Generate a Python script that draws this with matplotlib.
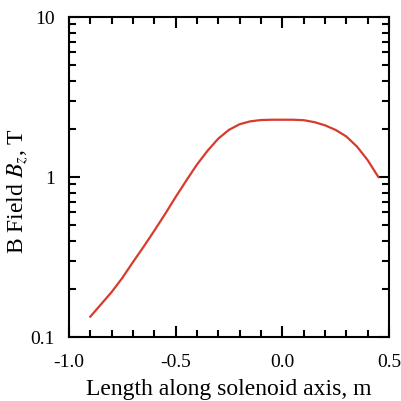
import matplotlib
matplotlib.use("Agg")
import matplotlib.pyplot as plt
from matplotlib.ticker import MultipleLocator, LogLocator, FixedFormatter, FixedLocator, NullFormatter

# position along solenoid axis (m) and field magnitude (T)
z_pos = [-0.90, -0.85, -0.80, -0.75, -0.70, -0.65, -0.60, -0.55, -0.50, -0.45,
         -0.40, -0.35, -0.30, -0.25, -0.20, -0.15, -0.10, -0.05, 0.00, 0.05,
         0.10, 0.15, 0.20, 0.25, 0.30, 0.35, 0.40, 0.45]
b_field = [0.134, 0.160, 0.191, 0.234, 0.294, 0.367, 0.462, 0.586, 0.750, 0.951,
           1.197, 1.462, 1.738, 1.972, 2.138, 2.228, 2.270, 2.280, 2.280, 2.280,
           2.265, 2.203, 2.104, 1.968, 1.791, 1.549, 1.274, 1.000]

y_ticks = [0.1, 1, 10]
y_tick_labels = ['0.1', '1', '10']

plt.rcParams['font.family'] = 'Liberation Serif'
plt.rcParams['mathtext.fontset'] = 'stix'
plt.rcParams['axes.unicode_minus'] = False

fig = plt.figure(figsize=(4.02, 4.01), dpi=100)
ax = fig.add_axes([0.1716, 0.1596, 0.7961, 0.798])

ax.plot(z_pos, b_field, color='#d93a2e', lw=1.6)

ax.set_yscale('log')
ax.set_xlim(-1.0, 0.5)
ax.set_ylim(0.1, 10)

ax.xaxis.set_major_locator(MultipleLocator(0.5))
ax.xaxis.set_minor_locator(MultipleLocator(0.1))
ax.xaxis.set_major_formatter(plt.FuncFormatter(lambda v, p: f'{v:.1f}'))
ax.yaxis.set_major_locator(FixedLocator(y_ticks))
ax.yaxis.set_major_formatter(FixedFormatter(y_tick_labels))
ax.yaxis.set_minor_locator(LogLocator(base=10, subs=range(2, 10)))
ax.yaxis.set_minor_formatter(NullFormatter())

for s in ax.spines.values():
    s.set_linewidth(1.5)
ax.tick_params(which='both', direction='in', top=True, right=True, width=1.5, labelsize=14)
ax.tick_params(which='major', length=8)
ax.tick_params(axis='x', which='major', pad=12)
ax.tick_params(axis='y', which='major', pad=10)
ax.tick_params(which='minor', length=5)

ax.set_xlabel('Length along solenoid axis, m', fontsize=17, labelpad=6)
ax.set_ylabel('B Field $B_z$, T', fontsize=17)
ax.yaxis.set_label_coords(-0.118, 0.455)

fig.savefig('out.png', dpi=100)
